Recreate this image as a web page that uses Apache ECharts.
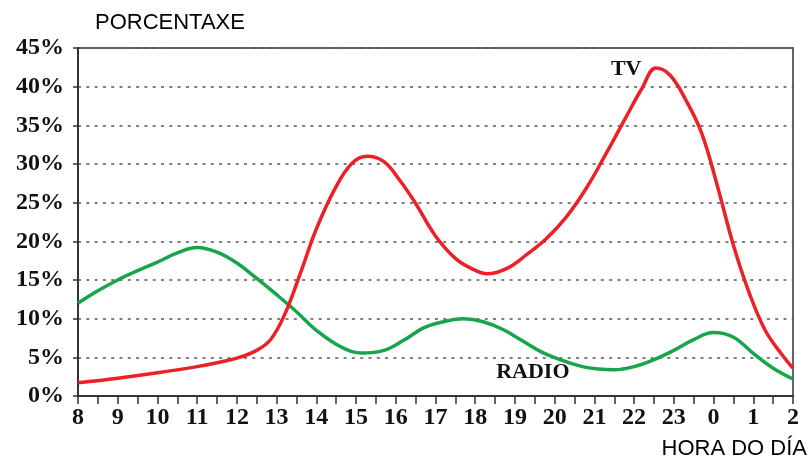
<!DOCTYPE html>
<html>
<head>
<meta charset="utf-8">
<script src="https://cdn.jsdelivr.net/npm/echarts@6/dist/echarts.min.js"></script>
<style>html,body{margin:0;padding:0;background:#fff;}#c{width:810px;height:459px;}</style>
</head>
<body>
<div id="c"></div>
<script>
// Hours since 8 o'clock axis (8 .. 26 = 2 next day)
const hourTicks = [8,9,10,11,12,13,14,15,16,17,18,19,20,21,22,23,24,25,26];
const hourLabels = ['8','9','10','11','12','13','14','15','16','17','18','19','20','21','22','23','0','1','2'];

const tvHours  = [8, 9, 10, 11, 11.5, 12, 12.5, 12.85, 13.2, 13.6, 14, 14.5, 14.9, 15.28, 15.7, 16.1, 16.5, 17, 17.5, 17.9, 18.3, 18.8, 19.3, 19.8, 20.3, 20.8, 21.3, 21.8, 22.2, 22.55, 22.9, 23.3, 23.7, 24.1, 24.5, 24.9, 25.3, 25.7, 26];
const tvValues = [1.7, 2.3, 3.0, 3.8, 4.3, 4.9, 5.9, 7.3, 10.5, 15.9, 21.6, 27.1, 30.1, 31.0, 30.3, 27.9, 24.9, 20.7, 17.8, 16.5, 15.8, 16.5, 18.3, 20.4, 23.2, 26.9, 31.4, 36.1, 39.8, 42.4, 41.5, 38.3, 34.0, 27.1, 19.5, 13.3, 8.5, 5.5, 3.6];

const radioHours  = [8, 8.5, 9, 9.5, 10, 10.5, 11, 11.5, 12, 12.5, 13, 13.5, 14, 14.6, 15.15, 15.7, 16.2, 16.7, 17.2, 17.7, 18.2, 18.7, 19.2, 19.7, 20.2, 20.7, 21.1, 21.5, 22, 22.5, 23, 23.5, 24, 24.5, 25, 25.5, 26];
const radioValues = [12.0, 13.6, 15.0, 16.2, 17.3, 18.5, 19.2, 18.6, 17.2, 15.2, 13.1, 10.9, 8.5, 6.4, 5.55, 5.9, 7.2, 8.8, 9.6, 10.0, 9.6, 8.6, 7.1, 5.6, 4.6, 3.8, 3.5, 3.4, 3.8, 4.7, 5.9, 7.3, 8.2, 7.6, 5.5, 3.6, 2.2];

const yTicks = [0, 5, 10, 15, 20, 25, 30, 35, 40, 45];

const serif = '"Liberation Serif", "DejaVu Serif", serif';
const sans = '"Liberation Sans", Arial, sans-serif';

function zip(xs, ys){ return xs.map((x,i)=>[x, ys[i]]); }

function tag(text, coord) {
  return {
    coord: coord, symbol: 'circle', symbolSize: 1, itemStyle: { color: 'rgba(0,0,0,0)' },
    label: { show: true, position: 'inside', formatter: text, fontFamily: serif, fontWeight: 'bold', fontSize: 22, color: '#111' }
  };
}

const chart = echarts.init(document.getElementById('c'), null, {renderer:'canvas'});
chart.setOption({
  animation: false,
  backgroundColor: '#fff',
  grid: { left: 78, right: 17, top: 48, bottom: 63, show: true, borderColor: '#333', borderWidth: 1.5, backgroundColor: 'transparent' },
  graphic: [
    { type: 'text', left: 95, top: 12, style: { text: 'PORCENTAXE', font: '22px ' + sans, fill: '#000' } },
    { type: 'text', right: 3, top: 438, style: { text: 'HORA DO DÍA', font: '22px ' + sans, fill: '#000' } }
  ],
  xAxis: {
    type: 'value', min: 8, max: 26, interval: 0.5,
    axisLine: { show: true, lineStyle: { color: '#333', width: 2 } },
    axisTick: { show: true, length: 8, lineStyle: { color: '#333', width: 1.5 } },
    splitLine: { show: false },
    axisLabel: {
      margin: 10,
      fontFamily: serif, fontWeight: 'bold', fontSize: 24, color: '#111',
      formatter: function (v) { const i = hourTicks.indexOf(v); return i >= 0 ? hourLabels[i] : ''; }
    }
  },
  yAxis: {
    type: 'value', min: yTicks[0], max: yTicks[yTicks.length-1], interval: 5,
    axisLine: { show: true, lineStyle: { color: '#333', width: 2 } },
    axisTick: { show: true, length: 5, lineStyle: { color: '#333', width: 1.5 } },
    splitLine: { show: true, lineStyle: { color: '#555', width: 1.5, type: [3, 5.3] } },
    axisLabel: { margin: 14, fontFamily: serif, fontWeight: 'bold', fontSize: 24, color: '#111', formatter: '{value}%' }
  },
  series: [
    {
      name: 'TV', type: 'line', data: zip(tvHours, tvValues), smooth: 0.4, showSymbol: false, symbol: 'none',
      lineStyle: { color: '#ec2127', width: 3.5 }, z: 3,
      markPoint: { data: [tag('TV', [21.8, 42.3])] }
    },
    {
      name: 'RADIO', type: 'line', data: zip(radioHours, radioValues), smooth: 0.4, showSymbol: false, symbol: 'none',
      lineStyle: { color: '#16a54a', width: 3.5 }, z: 2,
      markPoint: { data: [tag('RADIO', [19.45, 3.0])] }
    }
  ]
});
</script>
</body>
</html>
